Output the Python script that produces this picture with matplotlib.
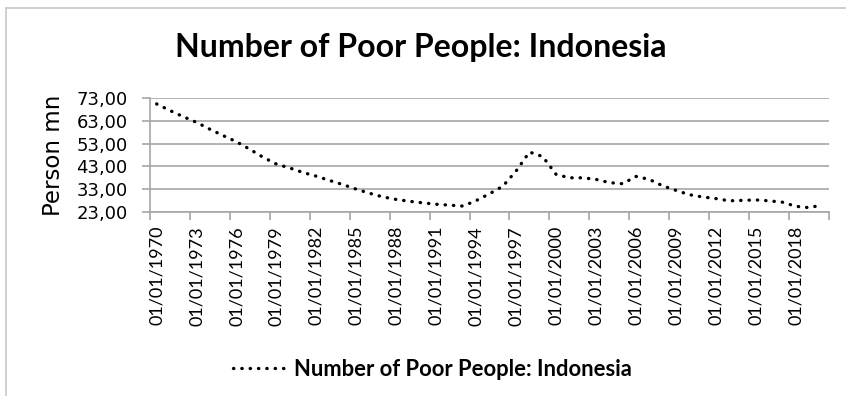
import matplotlib
matplotlib.use("Agg")
import matplotlib.pyplot as plt
from matplotlib.lines import Line2D

# Yearly values, 1970 - 2020
years = list(range(1970, 2021))
poor_people = [70.4, 67.5, 64.8, 62.3, 59.3, 56.5, 53.8, 50.5, 47.0, 44.0,
               42.3, 40.3, 38.7, 36.8, 35.0, 33.0, 31.2, 29.6, 28.5, 27.7,
               27.0, 26.4, 26.0, 25.6, 28.0, 31.0, 34.3, 41.0, 49.3, 47.3,
               39.5, 38.0, 38.0, 37.3, 35.9, 35.4, 38.6, 37.3, 34.5, 32.5,
               30.6, 29.6, 28.9, 27.9, 28.1, 28.3, 27.9, 27.3, 25.5, 24.9,
               26.1]
y_ticks = [23, 33, 43, 53, 63, 73]

series_name = "Number of Poor People: Indonesia"
grid_color = "#a6a6a6"
dotted = (0, (0.1, 2.4))

fig = plt.figure(figsize=(8.46, 3.96), dpi=100)

# Outer chart frame (only top and left edge are visible in the reference)
fig.add_artist(Line2D([6 / 846, 6 / 846], [0, 1 - 8 / 396], color="#c8c8c8", lw=1.2))
fig.add_artist(Line2D([6 / 846, 1], [1 - 8 / 396, 1 - 8 / 396], color="#c8c8c8", lw=1.2))

ax = fig.add_axes([150 / 846, 1 - 212 / 396, 679 / 846, 114 / 396])

x = list(range(len(years)))
ax.plot(x, poor_people, color="black", lw=2.4, linestyle=dotted,
        dash_capstyle="round")

ax.set_xlim(-0.5, len(years) - 0.5)
ax.set_ylim(23, 73)

# Category axis: labels every third year, tick marks on category boundaries
label_pos = x[::3]
ax.set_xticks(label_pos)
ax.set_xticklabels(["01/01/%d" % years[i] for i in label_pos], rotation=90,
                   fontsize=13, family="Lato")
ax.set_xticks([p - 0.5 for p in label_pos] + [len(years) - 0.5], minor=True)
ax.tick_params(axis="x", which="major", length=0, pad=10)
ax.tick_params(axis="x", which="minor", length=6, color=grid_color, width=1.2)

ax.set_yticks(y_ticks)
ax.set_yticklabels([("%.2f" % v).replace(".", ",") for v in y_ticks], fontsize=13)
ax.tick_params(axis="y", length=6, color=grid_color, width=1.2, pad=10)
ax.set_ylabel("Person mn", fontsize=16.5, labelpad=8)

ax.grid(axis="y", color=grid_color, lw=1.2)
ax.set_axisbelow(True)
for side in ["top", "right"]:
    ax.spines[side].set_visible(False)
for side in ["left", "bottom"]:
    ax.spines[side].set_color(grid_color)
    ax.spines[side].set_linewidth(1.2)

fig.text(0.497, 1 - 47 / 396, series_name, fontsize=23, fontweight="bold",
         family="Lato", ha="center", va="center")

handle = Line2D([], [], color="black", lw=2.4, linestyle=dotted,
                dash_capstyle="round")
fig.legend([handle], [series_name], loc="center", bbox_to_anchor=(0.511, 1 - 369 / 396),
           frameon=False, handlelength=2.4, handletextpad=0.35,
           prop={"family": "Lato", "weight": "bold", "size": 15.8})

fig.savefig("out.png", dpi=100)
